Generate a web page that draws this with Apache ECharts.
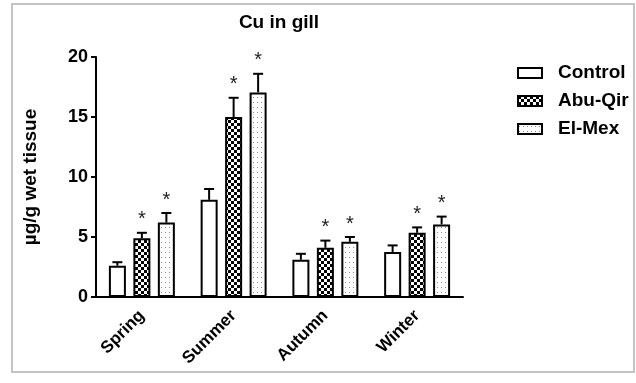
<!DOCTYPE html>
<html><head><meta charset="utf-8">
<script src="https://cdn.jsdelivr.net/npm/echarts@6/dist/echarts.min.js"></script>
<style>html,body{margin:0;padding:0;background:#fff}#c{width:636px;height:383px}</style>
</head><body><div id="c"></div>
<script>
const categories = ['Spring', 'Summer', 'Autumn', 'Winter'];
const seriesNames = ['Control', 'Abu-Qir', 'El-Mex'];
const controlVals = [2.6, 8.1, 3.1, 3.75];
const controlErr  = [0.3, 0.9, 0.5, 0.55];
const abuQirVals  = [4.9, 15.0, 4.1, 5.35];
const abuQirErr   = [0.45, 1.6, 0.6, 0.45];
const elMexVals   = [6.2, 17.05, 4.6, 6.05];
const elMexErr    = [0.8, 1.55, 0.4, 0.65];
const significant = [[false,false,false,false],[true,true,true,true],[true,true,true,true]];
const yTicks = [0, 5, 10, 15, 20];

const FONT = 'Liberation Sans, Arial, sans-serif';

function checkerPattern(){
  const c = document.createElement('canvas'); c.width = 6; c.height = 6;
  const g = c.getContext('2d');
  g.fillStyle = '#fff'; g.fillRect(0,0,6,6);
  g.fillStyle = '#000'; g.fillRect(0,0,3,3); g.fillRect(3,3,3,3);
  return c;
}
function dotPattern(){
  const c = document.createElement('canvas'); c.width = 4; c.height = 5;
  const g = c.getContext('2d');
  g.fillStyle = '#fff'; g.fillRect(0,0,4,5);
  g.fillStyle = '#888'; g.fillRect(1,2,1,1);
  return c;
}

const allVals = [controlVals, abuQirVals, elMexVals];
const allErr = [controlErr, abuQirErr, elMexErr];
const fills = ['#ffffff', {image: checkerPattern(), repeat: 'repeat'}, {image: dotPattern(), repeat: 'repeat'}];

const errData = [];
for (let s = 0; s < 3; s++) for (let i = 0; i < categories.length; i++)
  errData.push([i, s, allVals[s][i], allErr[s][i], significant[s][i] ? 1 : 0]);

const barSeries = seriesNames.map((n, s) => ({
  name: n, type: 'bar', data: allVals[s],
  barWidth: 17, barGap: '44%',
  itemStyle: {color: fills[s], borderColor: '#000', borderWidth: 2},
  z: 2
}));

const chart = echarts.init(document.getElementById('c'), null, {renderer: 'canvas'});
chart.setOption({
  animation: false,
  backgroundColor: '#fff',
  title: {text: 'Cu in gill', left: 274, top: 8, textAlign: 'center',
    textStyle: {fontFamily: FONT, fontWeight: 'bold', fontSize: 19, color: '#000'}},
  grid: {left: 96, right: 173, top: 57, bottom: 86},
  legend: {orient: 'vertical', left: 512, top: 58, itemWidth: 24, itemHeight: 10, itemGap: 8,
    icon: 'rect', data: seriesNames,
    textStyle: {fontFamily: FONT, fontWeight: 'bold', fontSize: 19, lineHeight: 20, color: '#000', padding: [0,0,0,11]}},
  xAxis: {type: 'category', data: categories,
    axisLine: {lineStyle: {color: '#000', width: 2}},
    axisTick: {alignWithLabel: true, length: 6, lineStyle: {color: '#000', width: 2}},
    axisLabel: {rotate: 45, margin: 16, fontFamily: FONT, fontWeight: 'bold', fontSize: 17, color: '#000'}},
  yAxis: {type: 'value', min: yTicks[0], max: yTicks[yTicks.length-1], interval: 5,
    name: 'µg/g wet tissue', nameLocation: 'middle', nameRotate: 90, nameGap: 56,
    nameTextStyle: {fontFamily: FONT, fontWeight: 'bold', fontSize: 19, color: '#000'},
    splitLine: {show: false},
    axisLine: {show: true, lineStyle: {color: '#000', width: 2}},
    axisTick: {show: true, length: 5, lineStyle: {color: '#000', width: 2}},
    axisLabel: {margin: 8, fontFamily: FONT, fontWeight: 'bold', fontSize: 18, color: '#000'}},
  graphic: [{type: 'rect', shape: {x: 12, y: 4, width: 622, height: 368},
    style: {fill: 'none', stroke: '#c4c4c4', lineWidth: 2}, z: -1, silent: true}],
  series: barSeries.concat([{
    type: 'custom', data: errData, z: 1,
    renderItem: function(params, api){
      const ci = api.value(0), s = api.value(1), v = api.value(2), e = api.value(3), sig = api.value(4);
      const base = api.coord([ci, v]);
      const top = api.coord([ci, v + e]);
      const x = base[0] + (s - 1) * 24.5;
      const children = [
        {type: 'line', shape: {x1: x, y1: base[1], x2: x, y2: top[1]}, style: {stroke: '#000', lineWidth: 2}},
        {type: 'line', shape: {x1: x - 5, y1: top[1], x2: x + 5, y2: top[1]}, style: {stroke: '#000', lineWidth: 2}}
      ];
      if (sig) children.push({type: 'text', style: {text: '*', x: x, y: top[1] - 3, align: 'center', verticalAlign: 'bottom',
        font: '20px ' + FONT, fill: '#222'}});
      return {type: 'group', children: children};
    }
  }])
});
</script></body></html>
